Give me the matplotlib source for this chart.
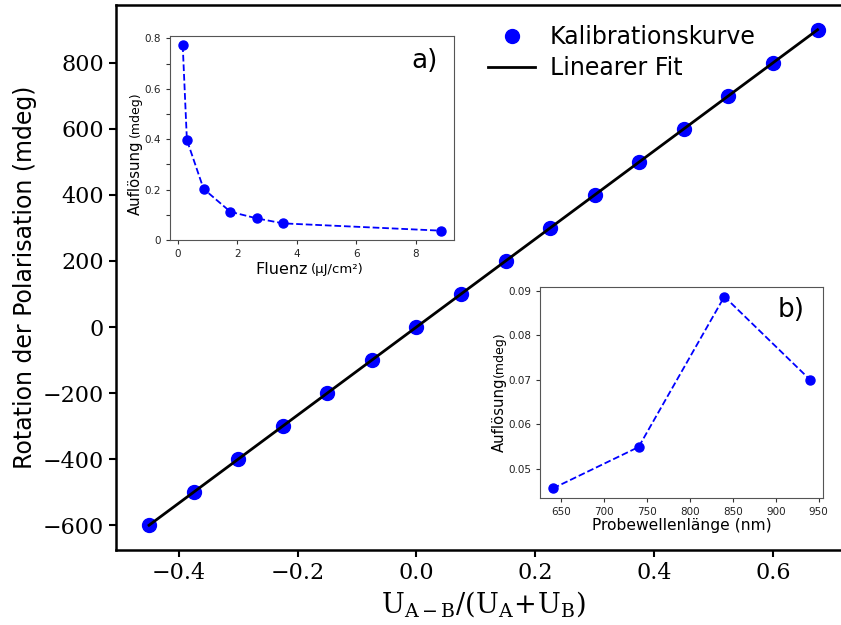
import numpy as np
import matplotlib
matplotlib.use('Agg')
import matplotlib.pyplot as plt

# Kalibrationskurve
u_ratio = [-0.45, -0.375, -0.3, -0.225, -0.15, -0.075, 0.0, 0.075, 0.15,
           0.225, 0.3, 0.375, 0.45, 0.525, 0.6, 0.675]
rotation = [-600, -500, -400, -300, -200, -100, 0, 100, 200,
            300, 400, 500, 600, 700, 800, 900]

# Inset a) Auflösung vs Fluenz
fluenz = [0.17, 0.31, 0.87, 1.77, 2.65, 3.54, 8.84]
aufl_a = [0.773, 0.397, 0.203, 0.112, 0.086, 0.066, 0.037]

# Inset b) Auflösung vs Probewellenlänge
wellenlaenge = [640, 740, 840, 940]
aufl_b = [0.0456, 0.0549, 0.0887, 0.0700]

plt.rcParams['mathtext.fontset'] = 'dejavuserif'

fig = plt.figure(figsize=(8.41, 6.25), dpi=100)
W, H = 841, 625

def px_axes(l, t, r, b):
    return [l / W, (H - b) / H, (r - l) / W, (b - t) / H]

# Hauptplot (rechter Rand liegt ausserhalb des Bildes)
ax = fig.add_axes(px_axes(115.6, 5, 851, 550))
ax.plot(u_ratio, rotation, 'o', color='blue', markersize=10, label='Kalibrationskurve')
fit = np.polyfit(u_ratio, rotation, 1)
xf = np.array([min(u_ratio), max(u_ratio)])
ax.plot(xf, np.polyval(fit, xf), '-', color='black', lw=2, label='Linearer Fit')
ax.set_yticks([-600, -400, -200, 0, 200, 400, 600, 800])
ax.set_xticks([-0.4, -0.2, 0.0, 0.2, 0.4, 0.6])
for lab in ax.get_xticklabels() + ax.get_yticklabels():
    lab.set_fontfamily('DejaVu Serif')
    lab.set_fontsize(16)
ax.tick_params(width=1.5, length=5)
for s in ax.spines.values():
    s.set_linewidth(1.8)
ax.spines['right'].set_visible(False)
ax.set_ylabel('Rotation der Polarisation (mdeg)', fontsize=17, labelpad=4)
ax.set_xlabel(r'$\mathrm{U_{A-B}/(U_A\!+\!U_B)}$', fontsize=19.5, labelpad=4)
ax.legend(loc='upper left', bbox_to_anchor=(467 / W, 1 - 4 / H),
          bbox_transform=fig.transFigure, frameon=False, fontsize=17,
          handlelength=2.0, labelspacing=0.3, handletextpad=0.6)

# Inset a)
axa = fig.add_axes(px_axes(169.8, 36, 454, 240))
axa.plot(fluenz, aufl_a, 'o--', color='blue', markersize=6.5, lw=1.3)
axa.set_yticks(np.arange(0, 0.81, 0.1))
axa.set_yticklabels(['0', '', '0.2', '', '0.4', '', '0.6', '', '0.8'])
axa.set_xticks([0, 2, 4, 6, 8])
axa.tick_params(labelsize=7.5, length=3, width=0.8, colors='#333333', labelcolor='#222222')
for s in axa.spines.values():
    s.set_color('#555555')
axa.text(0.30, -0.147, 'Fluenz', transform=axa.transAxes, fontsize=11.5, ha='left', va='center')
axa.text(0.497, -0.147, '(µJ/cm²)', transform=axa.transAxes, fontsize=9.5, ha='left', va='center')
axa.text(-0.12, 0.123, 'Auflösung', transform=axa.transAxes, fontsize=10.7, rotation=90,
         ha='center', va='bottom')
axa.text(-0.12, 0.505, '(mdeg)', transform=axa.transAxes, fontsize=9, rotation=90,
         ha='center', va='bottom')
axa.text(0.896, 0.877, 'a)', transform=axa.transAxes, fontsize=19, ha='center', va='center')

# Inset b)
axb = fig.add_axes(px_axes(540, 287, 823, 498))
axb.plot(wellenlaenge, aufl_b, 'o--', color='blue', markersize=6.5, lw=1.3)
axb.set_yticks([0.05, 0.06, 0.07, 0.08, 0.09])
axb.set_yticklabels(['0.05', '0.06', '0.07', '0.08', '0.09'])
axb.set_xticks([650, 700, 750, 800, 850, 900, 950])
axb.tick_params(labelsize=7.5, length=3, width=0.8, colors='#333333', labelcolor='#222222')
for s in axb.spines.values():
    s.set_color('#555555')
axb.set_xlabel('Probewellenlänge (nm)', fontsize=11.2, labelpad=1)
axb.text(-0.145, 0.218, 'Auflösung', transform=axb.transAxes, fontsize=10.7, rotation=90,
         ha='center', va='bottom')
axb.text(-0.145, 0.573, '(mdeg)', transform=axb.transAxes, fontsize=9, rotation=90,
         ha='center', va='bottom')
axb.text(0.887, 0.891, 'b)', transform=axb.transAxes, fontsize=19, ha='center', va='center')

fig.savefig('out.png', dpi=100)
